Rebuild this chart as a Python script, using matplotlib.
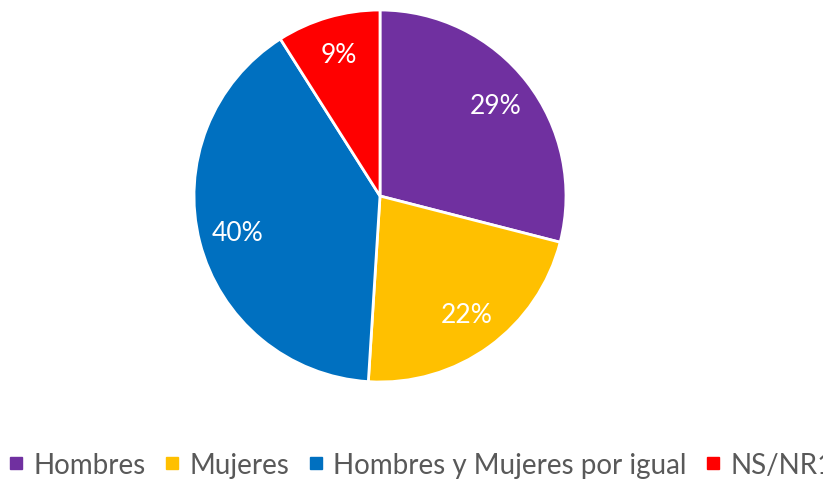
import matplotlib
matplotlib.use("Agg")
import matplotlib.pyplot as plt
from matplotlib.lines import Line2D

categories = ["Hombres", "Mujeres", "Hombres y Mujeres por igual", "NS/NR1"]
values = [29, 22, 40, 9]
colors = ["#7030A0", "#FFC000", "#0070C0", "#FF0000"]

plt.rcParams['font.family'] = ['Lato', 'DejaVu Sans']

fig = plt.figure(figsize=(8.23, 4.81), dpi=100)
ax = fig.add_axes([194 / 823, 98 / 481, 372 / 823, 372 / 481])

wedges, texts, autotexts = ax.pie(
    values, colors=colors, startangle=90, counterclock=False,
    autopct='%1.0f%%', pctdistance=0.79,
    wedgeprops=dict(edgecolor='white', linewidth=2),
    textprops=dict(color='white', fontsize=19),
)
ax.set_xlim(-1.0, 1.0)
ax.set_ylim(-1.0, 1.0)
ax.set_aspect('equal')

handles = [Line2D([0], [0], marker='s', linestyle='none', markersize=8,
                  markerfacecolor=c, markeredgecolor=c) for c in colors]
fig.legend(handles, categories, loc='center left', bbox_to_anchor=(10.5 / 823, 1 - 466 / 481),
           ncol=4, frameon=False, fontsize=20, handlelength=0.4, handletextpad=0.42,
           columnspacing=0.76, labelcolor='#595959', borderpad=0.0, borderaxespad=0.0)

fig.savefig("out.png", dpi=100)
